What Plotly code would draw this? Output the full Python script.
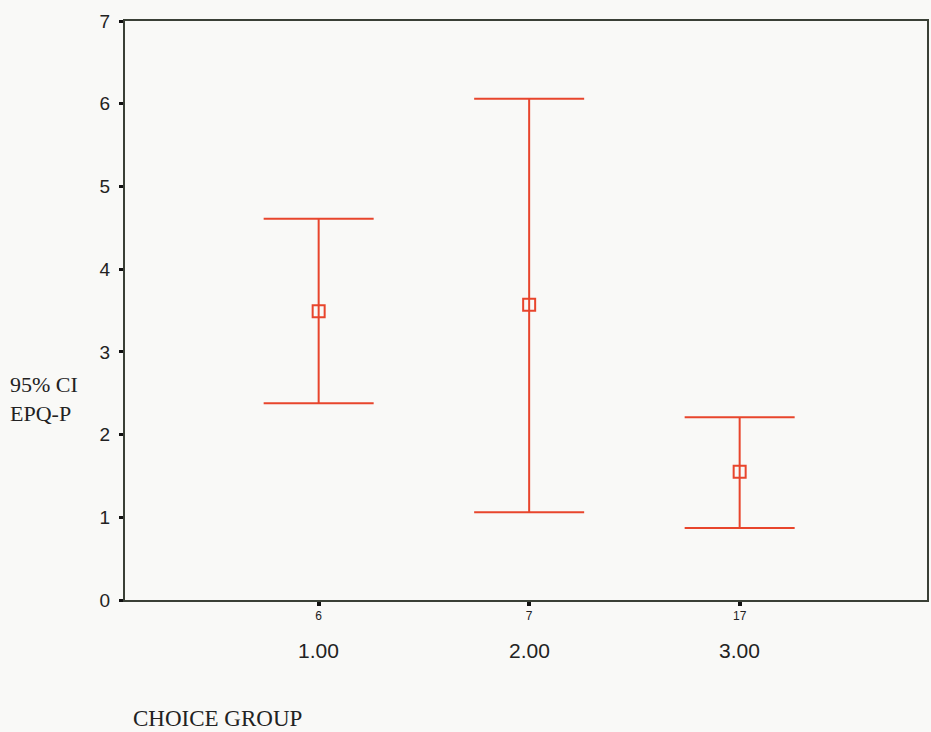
import plotly.graph_objects as go

categories = ["1.00", "2.00", "3.00"]
group_n = ["6", "7", "17"]
means = [3.49, 3.57, 1.55]
lower = [2.38, 1.06, 0.87]
upper = [4.61, 6.06, 2.21]

xpos = [1, 2, 3]
red = "#e8452c"
axis_col = "#3a4036"

fig = go.Figure()
fig.add_trace(go.Scatter(
    x=xpos, y=means, mode="markers",
    marker=dict(symbol="square-open", size=12, color=red, line=dict(width=2, color=red)),
    error_y=dict(type="data", symmetric=False,
                 array=[u - m for u, m in zip(upper, means)],
                 arrayminus=[m - l for m, l in zip(means, lower)],
                 color=red, thickness=2, width=55),
    showlegend=False,
))

for x, c in zip(xpos, categories):
    fig.add_annotation(x=x, y=-0.088, xref="x", yref="paper", text=c, showarrow=False,
                       font=dict(family="Arial", size=21, color="#222"), yanchor="middle")

fig.add_annotation(x=-0.146, y=0.347, xref="paper", yref="paper", xanchor="left", yanchor="middle",
                   text="95% CI<br>EPQ-P", showarrow=False, align="left",
                   font=dict(family="Liberation Serif", size=22, color="#222"))
fig.add_annotation(x=0.008, y=-0.204, xref="paper", yref="paper", xanchor="left", yanchor="middle",
                   text="CHOICE GROUP", showarrow=False,
                   font=dict(family="Liberation Serif", size=23, color="#222"))

fig.update_layout(
    width=931, height=732,
    margin=dict(l=125, r=2, t=21, b=132),
    paper_bgcolor="#f9f9f7", plot_bgcolor="#f9f9f7",
    xaxis=dict(range=[0.08, 3.89], tickvals=xpos, ticktext=group_n,
               showgrid=False, zeroline=False, showline=True, linecolor=axis_col, linewidth=2,
               mirror=True, ticks="outside", ticklen=4, tickwidth=4, tickcolor="#111",
               tickfont=dict(family="Arial", size=12, color="#222")),
    yaxis=dict(range=[0, 7], tickvals=[0, 1, 2, 3, 4, 5, 6, 7],
               showgrid=False, zeroline=False, showline=True, linecolor=axis_col, linewidth=2,
               mirror=True, ticks="outside", ticklen=4, tickwidth=3, tickcolor="#111",
               ticklabelstandoff=5,
               tickfont=dict(family="Arial", size=19, color="#222")),
)

fig.write_html("out.html")
